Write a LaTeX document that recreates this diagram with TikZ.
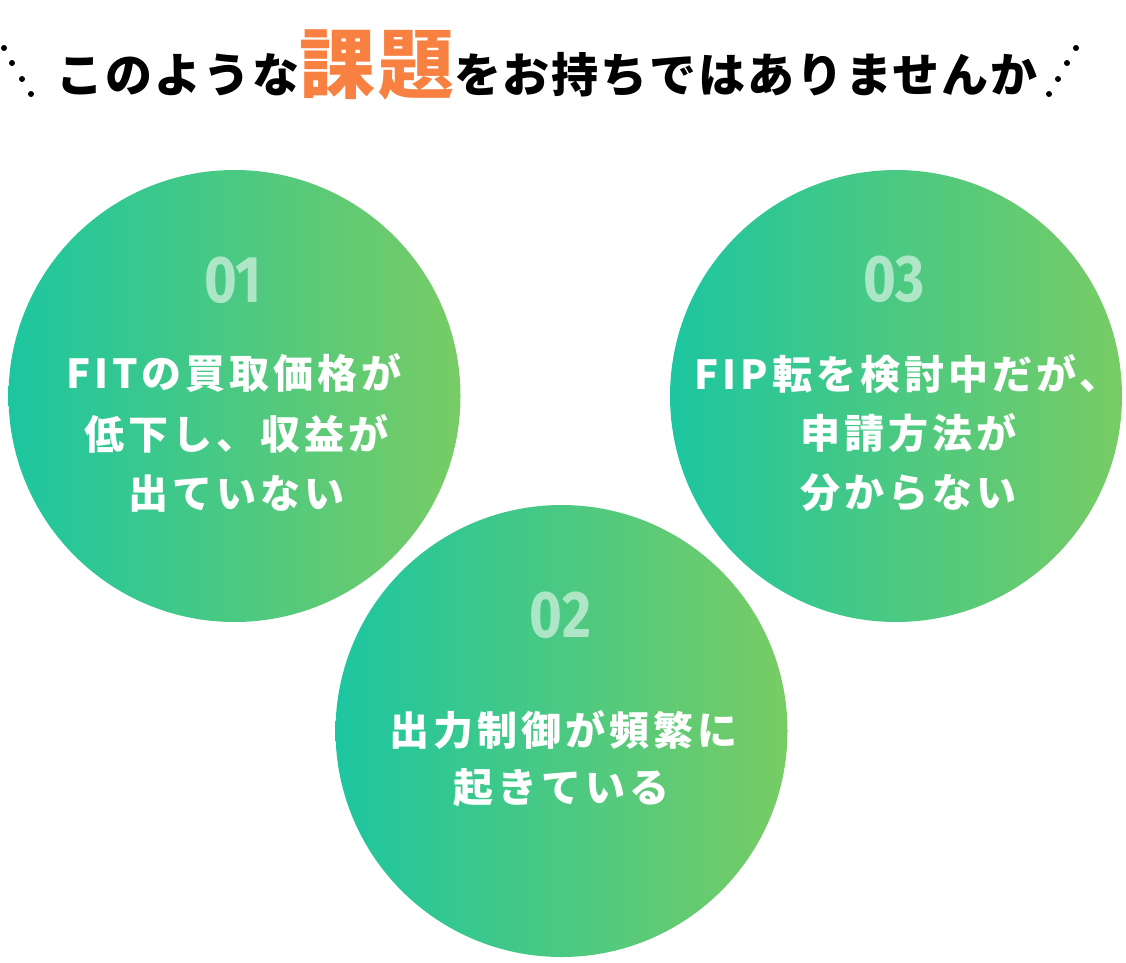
\documentclass[tikz,border=0pt]{standalone}
\usepackage{fontspec}
\newfontfamily\jpc{Noto Sans CJK JP}[LetterSpace=10]
\newfontfamily\jpt{Noto Sans CJK JP}[LetterSpace=4]
\newfontfamily\numf{Fira Sans}
\definecolor{teal1}{RGB}{29,198,160}
\definecolor{green1}{RGB}{120,204,100}
\definecolor{orng}{RGB}{248,128,64}
\begin{document}
\begin{tikzpicture}[x=1pt,y=-1pt,
  bubble/.style={circle, minimum size=452pt, inner sep=0pt, left color=teal1, right color=green1, draw=none},
  num/.style={inner sep=0pt, text=white, text opacity=0.55, font=\numf\bfseries\fontsize{66}{66}\selectfont},
  ctext/.style={inner sep=0pt, text=white, font=\jpc\bfseries\fontsize{40}{40}\selectfont},
  dotmark/.style={circle, fill=black, inner sep=0pt, minimum size=6pt}]
\useasboundingbox (0,0) rectangle (1126,962);
% title
\node[inner sep=0pt, anchor=base, font=\jpt\bfseries\fontsize{47}{47}\selectfont] (title) at (547,92)
  {このような{\fontsize{76}{76}\selectfont\textcolor{orng}{課題}}をお持ちではありませんか};
\node[dotmark] (dl1) at (4,48) {};
\node[dotmark] (dl2) at (12,63) {};
\node[dotmark] (dl3) at (22,79) {};
\node[dotmark] (dl4) at (31,94) {};
\node[dotmark] (dr1) at (1049,94) {};
\node[dotmark] (dr2) at (1058,79) {};
\node[dotmark] (dr3) at (1067,63) {};
\node[dotmark] (dr4) at (1076,48) {};
% circles
\node[bubble] (c1) at (234.5,396) {};
\node[bubble] (c3) at (896,396) {};
\node[bubble] (c2) at (561.5,731) {};
% numbers
\node[num] (n1) at (233,280) {\scalebox{0.85}[1]{01}};
\node[num] (n3) at (894,279) {\scalebox{0.85}[1]{03}};
\node[num] (n2) at (560.5,615) {\scalebox{0.85}[1]{02}};
% texts
\node[ctext] (t1a) at (234,373) {FITの買取価格が};
\node[ctext] (t1b) at (236,434) {低下し、収益が};
\node[ctext] (t1c) at (236,494) {出ていない};
\node[ctext] (t3a) at (907,374) {FIP転を検討中だが、};
\node[ctext] (t3b) at (908,433) {申請方法が};
\node[ctext] (t3c) at (908,493) {分からない};
\node[ctext] (t2a) at (563,730) {出力制御が頻繁に};
\node[ctext] (t2b) at (561,788) {起きている};
\end{tikzpicture}
\end{document}
